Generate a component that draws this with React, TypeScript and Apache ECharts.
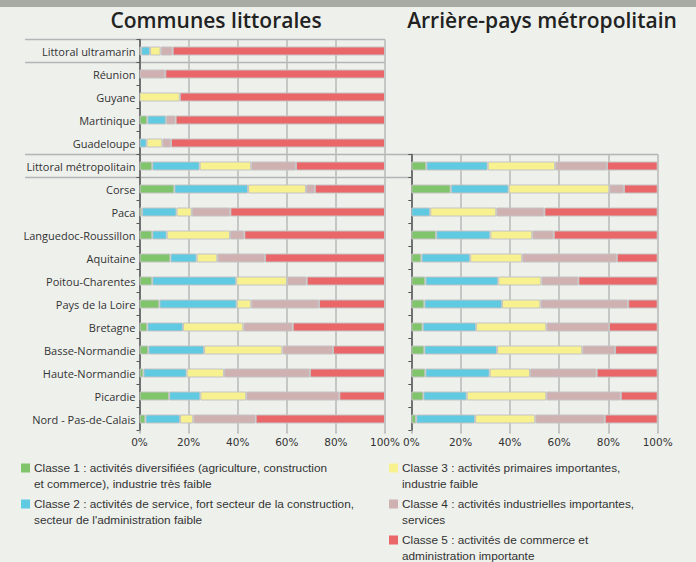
import React, { useEffect, useRef } from 'react';
import * as echarts from 'echarts';

const catsLeft = [
  'Littoral ultramarin', 'Réunion', 'Guyane', 'Martinique', 'Guadeloupe',
  'Littoral métropolitain', 'Corse', 'Paca', 'Languedoc-Roussillon', 'Aquitaine',
  'Poitou-Charentes', 'Pays de la Loire', 'Bretagne', 'Basse-Normandie',
  'Haute-Normandie', 'Picardie', 'Nord - Pas-de-Calais',
];
const catsRight = [
  'Littoral métropolitain', 'Corse', 'Paca', 'Languedoc-Roussillon', 'Aquitaine',
  'Poitou-Charentes', 'Pays de la Loire', 'Bretagne', 'Basse-Normandie',
  'Haute-Normandie', 'Picardie', 'Nord - Pas-de-Calais',
];

const classNames = [
  'Classe 1 : activités diversifiées (agriculture, construction et commerce), industrie très faible',
  "Classe 2 : activités de service, fort secteur de la construction, secteur de l'administration faible",
  'Classe 3 : activités primaires importantes, industrie faible',
  'Classe 4 : activités industrielles importantes, services',
  'Classe 5 : activités de commerce et administration importante',
];
const legendLines = [
  'Classe 1 : activités diversifiées (agriculture, construction\net commerce), industrie très faible',
  "Classe 2 : activités de service, fort secteur de la construction,\nsecteur de l'administration faible",
  'Classe 3 : activités primaires importantes,\nindustrie faible',
  'Classe 4 : activités industrielles importantes,\nservices',
  'Classe 5 : activités de commerce et\nadministration importante',
];
const classColors = ['#80c56c', '#5fcae1', '#f8f190', '#d0b1b2', '#ea6769'];

// Communes littorales (%)
const left1 = [0.7, 0, 0, 3.2, 0, 5.2, 14.2, 1.0, 5.2, 12.6, 5.2, 8.1, 3.2, 3.6, 1.6, 12.1, 2.4];
const left2 = [3.6, 0, 0, 7.6, 2.9, 19.3, 30.0, 14.1, 5.9, 10.7, 34.2, 31.5, 14.5, 22.7, 17.6, 12.7, 14.1];
const left3 = [4.3, 0, 16.4, 0, 6.4, 21.0, 23.6, 6.2, 25.8, 8.4, 20.7, 5.9, 24.6, 31.9, 15.2, 18.7, 5.4];
const left4 = [4.9, 10.5, 0, 3.9, 3.5, 18.2, 3.6, 15.7, 5.8, 19.4, 8.0, 27.6, 20.1, 20.6, 35.0, 37.9, 25.4];
const left5 = [86.5, 89.5, 83.6, 85.3, 87.2, 36.3, 28.6, 63.0, 57.3, 48.9, 31.9, 26.9, 37.6, 21.2, 30.6, 18.6, 52.7];

// Arrière-pays métropolitain (%)
const right1 = [6.1, 16.0, 0, 10.1, 4.1, 5.7, 5.3, 4.6, 5.3, 5.7, 4.9, 2.0];
const right2 = [24.9, 23.5, 7.7, 22.0, 19.8, 29.6, 31.5, 21.7, 29.5, 26.1, 17.6, 23.9];
const right3 = [27.4, 40.9, 26.8, 17.0, 21.1, 17.5, 15.6, 28.5, 34.6, 16.4, 32.3, 24.4];
const right4 = [21.0, 5.9, 19.5, 8.7, 38.4, 15.0, 35.6, 25.4, 13.3, 27.0, 30.2, 28.2];
const right5 = [20.6, 13.7, 46.0, 42.2, 16.6, 32.2, 12.0, 19.8, 17.3, 24.8, 15.0, 21.5];

const xTicks = { min: 0, max: 100, interval: 20 };

export default function App() {
  const ref = useRef<HTMLDivElement>(null);
  useEffect(() => {
    const chart = echarts.init(ref.current as HTMLDivElement, null, { renderer: 'svg' });
    const leftVals = [left1, left2, left3, left4, left5];
    const rightVals = [right1, right2, right3, right4, right5];
    const mk = (vals: number[][], idx: number, stack: string) =>
      vals.map((arr, i) => ({
        type: 'bar',
        name: classNames[i],
        xAxisIndex: idx,
        yAxisIndex: idx,
        stack,
        barWidth: 9,
        data: arr.map((v) => (v === 0 ? null : v)),
        itemStyle: { color: classColors[i], borderColor: '#c4c4c4', borderWidth: 1 },
        emphasis: { disabled: true },
      }));

    const xAxisCommon = {
      type: 'value',
      min: xTicks.min,
      max: xTicks.max,
      interval: xTicks.interval,
      axisLine: { show: false },
      axisTick: { show: true, length: 3, lineStyle: { color: '#b0b0b0', width: 1.5 } },
      splitLine: { show: true, lineStyle: { color: '#b8b8b8', width: 1.5 } },
      axisLabel: {
        formatter: '{value}%',
        color: '#333',
        fontFamily: 'DejaVu Sans',
        fontSize: 10.5,
        margin: 6,
      },
    };
    const yAxisCommon = {
      type: 'category',
      inverse: true,
      axisLine: { show: true, lineStyle: { color: '#555', width: 1.5 } },
      axisTick: { show: true, length: 3, lineStyle: { color: '#555' } },
      splitLine: { show: false },
      axisLabel: { color: '#333', fontFamily: 'Open Sans', fontSize: 11, margin: 4 },
    };

    const sepColor = '#b4b4b4';
    const line = (x1: number, y1: number, x2: number, y2: number) => ({
      type: 'line',
      shape: { x1, y1, x2, y2 },
      style: { stroke: sepColor, lineWidth: 1.5 },
      z: 0,
      silent: true,
    });

    const legendItems: any[] = [];
    const legendPos = [
      [21, 468], [21, 504], [389, 468], [389, 504], [389, 540],
    ];
    legendPos.forEach(([x, y], i) => {
      legendItems.push({
        type: 'rect',
        shape: { x, y: y - 4.5, width: 9, height: 9 },
        style: { fill: classColors[i] },
      });
      legendItems.push({
        type: 'text',
        x: x + 13,
        y: y - 8,
        style: {
          text: legendLines[i],
          font: "11.8px 'Liberation Sans'",
          fill: '#333',
          lineHeight: 16,
          verticalAlign: 'top',
        },
      });
    });

    chart.setOption({
      animation: false,
      backgroundColor: '#eef0ec',
      grid: [
        { left: 139.5, top: 39.5, width: 245.5, height: 391 },
        { left: 411.3, top: 154.5, width: 246.4, height: 276 },
      ],
      xAxis: [
        { ...xAxisCommon, gridIndex: 0 },
        { ...xAxisCommon, gridIndex: 1 },
      ],
      yAxis: [
        { ...yAxisCommon, gridIndex: 0, data: catsLeft },
        { ...yAxisCommon, gridIndex: 1, data: catsRight, axisLabel: { show: false } },
      ],
      series: [...mk(leftVals, 0, 'L'), ...mk(rightVals, 1, 'R')],
      graphic: [
        { type: 'rect', shape: { x: 0, y: 0, width: 696, height: 7 }, style: { fill: '#a8aba3' } },
        {
          type: 'text', x: 216, y: 20,
          style: { text: 'Communes littorales', font: "600 21px 'Open Sans'", fill: '#222', align: 'center', verticalAlign: 'middle' },
        },
        {
          type: 'text', x: 542, y: 20,
          style: { text: 'Arrière-pays métropolitain', font: "600 21px 'Open Sans'", fill: '#222', align: 'center', verticalAlign: 'middle' },
        },
        line(25, 39.5, 385, 39.5),
        line(25, 62.5, 385, 62.5),
        line(25, 154.5, 658, 154.5),
        line(25, 177.5, 411, 177.5),
        ...legendItems,
      ],
    });
    return () => chart.dispose();
  }, []);
  return <div ref={ref} style={{ position: 'fixed', left: 0, top: 0, width: 696, height: 562 }} />;
}
